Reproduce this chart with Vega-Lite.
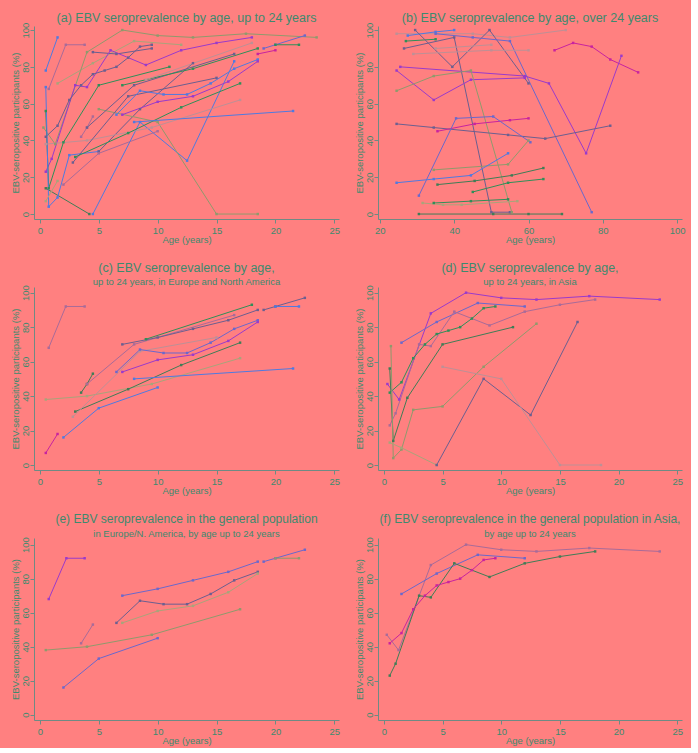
{
  "$schema": "https://vega.github.io/schema/vega-lite/v6.json",
  "padding": {"left": 10, "top": 11, "right": 5, "bottom": 3},
  "background": "#ff8080",
  "config": {
    "view": {"stroke": null},
    "font": "Liberation Sans",
    "axis": {"grid": false, "domainColor": "#6f8a84", "tickColor": "#6f8a84", "labelColor": "#3d8a6e", "titleColor": "#3d8a6e", "labelFontSize": 9.5, "titleFontSize": 9.5, "titleFontWeight": "normal", "tickSize": 4, "labelPadding": 2, "titlePadding": 0},
    "axisY": {"labelAngle": -90, "labelPadding": 0},
    "title": {"color": "#3d8a6e", "fontSize": 12.5, "fontWeight": "normal", "subtitleColor": "#3d8a6e", "subtitleFontSize": 9.5, "anchor": "middle", "offset": -2, "subtitlePadding": 3}
  },
  "datasets": {
    "a": [
      {"id":"a1","k":"blue","age":0.5,"pct":78},{"id":"a1","k":"blue","age":1.5,"pct":96},
      {"id":"a2","k":"mauve","age":0.75,"pct":68},{"id":"a2","k":"mauve","age":2.2,"pct":92},{"id":"a2","k":"mauve","age":3.8,"pct":92},
      {"id":"a3","k":"lolive","age":1.5,"pct":71},{"id":"a3","k":"lolive","age":4.5,"pct":82},{"id":"a3","k":"lolive","age":8,"pct":94},{"id":"a3","k":"lolive","age":12,"pct":92},
      {"id":"a4","k":"olive","age":0.3,"pct":47},{"id":"a4","k":"olive","age":1.3,"pct":38},{"id":"a4","k":"olive","age":4,"pct":88},{"id":"a4","k":"olive","age":7,"pct":100},{"id":"a4","k":"olive","age":10,"pct":97},{"id":"a4","k":"olive","age":13,"pct":96},{"id":"a4","k":"olive","age":17.5,"pct":98},{"id":"a4","k":"olive","age":23.5,"pct":96},
      {"id":"a5","k":"slate","age":4.5,"pct":88},{"id":"a5","k":"slate","age":6.5,"pct":87},{"id":"a5","k":"slate","age":9.5,"pct":90},
      {"id":"a6","k":"purple","age":0.5,"pct":23},{"id":"a6","k":"purple","age":1,"pct":30},{"id":"a6","k":"purple","age":3,"pct":70},{"id":"a6","k":"purple","age":4,"pct":69},{"id":"a6","k":"purple","age":6,"pct":89},{"id":"a6","k":"purple","age":9,"pct":81},{"id":"a6","k":"purple","age":12,"pct":89},{"id":"a6","k":"purple","age":15,"pct":93},{"id":"a6","k":"purple","age":18,"pct":96},
      {"id":"a7","k":"slate","age":0.5,"pct":42},{"id":"a7","k":"slate","age":1.5,"pct":48},{"id":"a7","k":"slate","age":2.5,"pct":62},{"id":"a7","k":"slate","age":3.5,"pct":70},{"id":"a7","k":"slate","age":4.5,"pct":76},{"id":"a7","k":"slate","age":5.5,"pct":78},{"id":"a7","k":"slate","age":6.5,"pct":80},{"id":"a7","k":"slate","age":7.5,"pct":85},{"id":"a7","k":"slate","age":8.5,"pct":91},{"id":"a7","k":"slate","age":9.5,"pct":92},
      {"id":"a8","k":"green","age":0.5,"pct":56},{"id":"a8","k":"green","age":0.75,"pct":14},{"id":"a8","k":"green","age":2,"pct":39},{"id":"a8","k":"green","age":5,"pct":70},{"id":"a8","k":"green","age":11,"pct":80},
      {"id":"a9","k":"dgreen","age":0.5,"pct":14},{"id":"a9","k":"dgreen","age":4.2,"pct":0},
      {"id":"a10","k":"blue","age":0.5,"pct":69},{"id":"a10","k":"blue","age":0.75,"pct":4},{"id":"a10","k":"blue","age":1.5,"pct":9},{"id":"a10","k":"blue","age":2.5,"pct":32},{"id":"a10","k":"blue","age":5,"pct":34},
      {"id":"a10b","k":"slate","age":5,"pct":34},{"id":"a10b","k":"slate","age":8.5,"pct":57},{"id":"a10b","k":"slate","age":13,"pct":82},
      {"id":"a11","k":"blue","age":4.5,"pct":0},{"id":"a11","k":"blue","age":8.5,"pct":50},{"id":"a11","k":"blue","age":12.5,"pct":29},{"id":"a11","k":"blue","age":16.5,"pct":83},
      {"id":"a12","k":"olive","age":5,"pct":57},{"id":"a12","k":"olive","age":10,"pct":50},{"id":"a12","k":"olive","age":15,"pct":0},{"id":"a12","k":"olive","age":18.5,"pct":0},
      {"id":"a13","k":"lolive","age":0.5,"pct":7},{"id":"a13","k":"lolive","age":1.5,"pct":18},
      {"id":"a14","k":"mauve","age":2,"pct":16},{"id":"a14","k":"mauve","age":5,"pct":33},{"id":"a14","k":"mauve","age":10,"pct":45},
      {"id":"a15","k":"lgray","age":0.5,"pct":38},{"id":"a15","k":"lgray","age":4,"pct":40},{"id":"a15","k":"lgray","age":9.5,"pct":47},{"id":"a15","k":"lgray","age":17,"pct":62},
      {"id":"a16","k":"slate","age":2.8,"pct":28},{"id":"a16","k":"slate","age":7.5,"pct":64},{"id":"a16","k":"slate","age":15,"pct":74},
      {"id":"a17","k":"green","age":3,"pct":31},{"id":"a17","k":"green","age":7.5,"pct":44},{"id":"a17","k":"green","age":12,"pct":58},{"id":"a17","k":"green","age":17,"pct":71},
      {"id":"a18","k":"mauve","age":3.5,"pct":42},{"id":"a18","k":"mauve","age":4,"pct":47},{"id":"a18","k":"mauve","age":4.5,"pct":53},
      {"id":"a19","k":"slate","age":4,"pct":47},{"id":"a19","k":"slate","age":8,"pct":70},{"id":"a19","k":"slate","age":16.5,"pct":87},
      {"id":"a20","k":"green","age":7,"pct":70},{"id":"a20","k":"green","age":13,"pct":79},{"id":"a20","k":"green","age":18.5,"pct":90},
      {"id":"a21","k":"lgray","age":9,"pct":73},{"id":"a21","k":"lgray","age":18,"pct":93},
      {"id":"a22","k":"blue","age":6.5,"pct":54},{"id":"a22","k":"blue","age":8.5,"pct":67},{"id":"a22","k":"blue","age":10.5,"pct":65},{"id":"a22","k":"blue","age":12.5,"pct":65},{"id":"a22","k":"blue","age":14.5,"pct":71},{"id":"a22","k":"blue","age":16.5,"pct":79},{"id":"a22","k":"blue","age":18.5,"pct":84},
      {"id":"a23","k":"purple","age":7,"pct":54},{"id":"a23","k":"purple","age":10,"pct":61},{"id":"a23","k":"purple","age":13,"pct":64},{"id":"a23","k":"purple","age":16,"pct":72},{"id":"a23","k":"purple","age":18.5,"pct":83},
      {"id":"a24","k":"blue","age":8,"pct":50},{"id":"a24","k":"blue","age":21.5,"pct":56},
      {"id":"a25","k":"magenta","age":18.5,"pct":87},{"id":"a25","k":"magenta","age":20,"pct":89},
      {"id":"a26","k":"slateblue","age":19,"pct":90},{"id":"a26","k":"slateblue","age":20,"pct":92},{"id":"a26","k":"slateblue","age":22.5,"pct":97},
      {"id":"a27","k":"green","age":20,"pct":92},{"id":"a27","k":"green","age":22,"pct":92}
    ],
    "b": [
      {"id":"b1","k":"lgray","age":24.5,"pct":98},{"id":"b1","k":"lgray","age":45,"pct":98},{"id":"b1","k":"lgray","age":55,"pct":96},{"id":"b1","k":"lgray","age":70,"pct":100},
      {"id":"b2","k":"blue","age":27.5,"pct":97},{"id":"b2","k":"blue","age":35,"pct":99},{"id":"b2","k":"blue","age":40,"pct":100},
      {"id":"b3","k":"green","age":27,"pct":94},{"id":"b3","k":"green","age":35,"pct":95},
      {"id":"b4","k":"slate","age":29.5,"pct":100},{"id":"b4","k":"slate","age":39.5,"pct":80},{"id":"b4","k":"slate","age":49.5,"pct":100},{"id":"b4","k":"slate","age":60,"pct":71},
      {"id":"b5","k":"slate","age":26.5,"pct":90},{"id":"b5","k":"slate","age":40,"pct":96},{"id":"b5","k":"slate","age":50,"pct":1},{"id":"b5","k":"slate","age":55,"pct":1},
      {"id":"b6","k":"slateblue","age":35,"pct":98},{"id":"b6","k":"slateblue","age":45,"pct":96},{"id":"b6","k":"slateblue","age":55,"pct":94},{"id":"b6","k":"slateblue","age":77,"pct":1},
      {"id":"b7","k":"lgray","age":35,"pct":90},{"id":"b7","k":"lgray","age":50,"pct":92},
      {"id":"b8","k":"lgray","age":29,"pct":87},{"id":"b8","k":"lgray","age":50,"pct":89},{"id":"b8","k":"lgray","age":60,"pct":89},
      {"id":"b9","k":"magenta","age":67,"pct":89},{"id":"b9","k":"magenta","age":72,"pct":93},{"id":"b9","k":"magenta","age":77,"pct":91},{"id":"b9","k":"magenta","age":82,"pct":84},{"id":"b9","k":"magenta","age":89.5,"pct":77},
      {"id":"b10","k":"purple","age":25.5,"pct":80},{"id":"b10","k":"purple","age":59,"pct":75},{"id":"b10","k":"purple","age":65.5,"pct":71},{"id":"b10","k":"purple","age":75.5,"pct":33},{"id":"b10","k":"purple","age":85,"pct":86},
      {"id":"b11","k":"purple","age":24.5,"pct":78},{"id":"b11","k":"purple","age":34.5,"pct":62},{"id":"b11","k":"purple","age":44.5,"pct":73},{"id":"b11","k":"purple","age":59,"pct":74},
      {"id":"b12","k":"olive","age":24.5,"pct":67},{"id":"b12","k":"olive","age":34.5,"pct":75},{"id":"b12","k":"olive","age":44.5,"pct":78},{"id":"b12","k":"olive","age":55.5,"pct":1},
      {"id":"b13","k":"slate","age":24.5,"pct":49},{"id":"b13","k":"slate","age":34.5,"pct":47},{"id":"b13","k":"slate","age":54.5,"pct":43},{"id":"b13","k":"slate","age":64.5,"pct":41},{"id":"b13","k":"slate","age":82,"pct":48},
      {"id":"b14","k":"magenta","age":35.5,"pct":45},{"id":"b14","k":"magenta","age":45.5,"pct":49},{"id":"b14","k":"magenta","age":55,"pct":51},{"id":"b14","k":"magenta","age":60,"pct":52},
      {"id":"b15","k":"slateblue","age":30.5,"pct":10},{"id":"b15","k":"slateblue","age":40.5,"pct":52},{"id":"b15","k":"slateblue","age":50.5,"pct":53},{"id":"b15","k":"slateblue","age":60.5,"pct":39},
      {"id":"b16","k":"olive","age":34.5,"pct":24},{"id":"b16","k":"olive","age":54.5,"pct":27},{"id":"b16","k":"olive","age":60,"pct":40},
      {"id":"b17","k":"blue","age":24.5,"pct":17},{"id":"b17","k":"blue","age":34.5,"pct":19},{"id":"b17","k":"blue","age":44.5,"pct":21},{"id":"b17","k":"blue","age":54.5,"pct":33},
      {"id":"b18","k":"dgreen","age":35.5,"pct":16},{"id":"b18","k":"dgreen","age":45.5,"pct":18},{"id":"b18","k":"dgreen","age":55.5,"pct":21},{"id":"b18","k":"dgreen","age":64,"pct":25},
      {"id":"b19","k":"green","age":45,"pct":12},{"id":"b19","k":"green","age":54.5,"pct":17},{"id":"b19","k":"green","age":64,"pct":19},
      {"id":"b20","k":"green","age":34.5,"pct":6},{"id":"b20","k":"green","age":44.5,"pct":7},{"id":"b20","k":"green","age":54.5,"pct":8},
      {"id":"b21","k":"lolive","age":31.5,"pct":6},{"id":"b21","k":"lolive","age":37,"pct":5},{"id":"b21","k":"lolive","age":42,"pct":5},{"id":"b21","k":"lolive","age":57,"pct":7},
      {"id":"b22","k":"dgreen","age":30.5,"pct":0},{"id":"b22","k":"dgreen","age":50.5,"pct":0},{"id":"b22","k":"dgreen","age":60,"pct":0},{"id":"b22","k":"dgreen","age":69,"pct":0}
    ],
    "c": [
      {"id":"c1","k":"mauve","age":0.75,"pct":68},{"id":"c1","k":"mauve","age":2.2,"pct":92},{"id":"c1","k":"mauve","age":3.8,"pct":92},
      {"id":"c2","k":"magenta","age":0.5,"pct":7},{"id":"c2","k":"magenta","age":1.5,"pct":18},
      {"id":"c3","k":"blue","age":2,"pct":16},{"id":"c3","k":"blue","age":5,"pct":33},{"id":"c3","k":"blue","age":10,"pct":45},
      {"id":"c4","k":"lolive","age":0.5,"pct":38},{"id":"c4","k":"lolive","age":4,"pct":40},{"id":"c4","k":"lolive","age":9.5,"pct":47},{"id":"c4","k":"lolive","age":17,"pct":62},
      {"id":"c5","k":"dgreen","age":3,"pct":31},{"id":"c5","k":"dgreen","age":7.5,"pct":44},{"id":"c5","k":"dgreen","age":12,"pct":58},{"id":"c5","k":"dgreen","age":17,"pct":71},
      {"id":"c6","k":"lgray","age":2.8,"pct":28},{"id":"c6","k":"lgray","age":8.5,"pct":66},{"id":"c6","k":"lgray","age":15,"pct":74},
      {"id":"c7","k":"dgreen","age":3.5,"pct":42},{"id":"c7","k":"dgreen","age":4,"pct":47},{"id":"c7","k":"dgreen","age":4.5,"pct":53},
      {"id":"c8","k":"mauve","age":4,"pct":47},{"id":"c8","k":"mauve","age":8,"pct":70},{"id":"c8","k":"mauve","age":16.5,"pct":87},
      {"id":"c9","k":"slate","age":7,"pct":70},{"id":"c9","k":"slate","age":10,"pct":74},{"id":"c9","k":"slate","age":13,"pct":79},{"id":"c9","k":"slate","age":16,"pct":84},{"id":"c9","k":"slate","age":18.5,"pct":90},
      {"id":"c10","k":"green","age":9,"pct":73},{"id":"c10","k":"green","age":18,"pct":93},
      {"id":"c11","k":"slateblue","age":6.5,"pct":54},{"id":"c11","k":"slateblue","age":8.5,"pct":67},{"id":"c11","k":"slateblue","age":10.5,"pct":65},{"id":"c11","k":"slateblue","age":12.5,"pct":65},{"id":"c11","k":"slateblue","age":14.5,"pct":71},{"id":"c11","k":"slateblue","age":16.5,"pct":79},{"id":"c11","k":"slateblue","age":18.5,"pct":84},
      {"id":"c12","k":"purple","age":7,"pct":54},{"id":"c12","k":"purple","age":10,"pct":61},{"id":"c12","k":"purple","age":13,"pct":64},{"id":"c12","k":"purple","age":16,"pct":72},{"id":"c12","k":"purple","age":18.5,"pct":83},
      {"id":"c13","k":"blue","age":8,"pct":50},{"id":"c13","k":"blue","age":21.5,"pct":56},
      {"id":"c14","k":"slate","age":19,"pct":90},{"id":"c14","k":"slate","age":20,"pct":92},{"id":"c14","k":"slate","age":22.5,"pct":97},
      {"id":"c15","k":"blue","age":20,"pct":92},{"id":"c15","k":"blue","age":22,"pct":92}
    ],
    "d": [
      {"id":"d1","k":"purple","age":0.3,"pct":47},{"id":"d1","k":"purple","age":1.3,"pct":38},{"id":"d1","k":"purple","age":4,"pct":88},{"id":"d1","k":"purple","age":7,"pct":100},{"id":"d1","k":"purple","age":10,"pct":97},{"id":"d1","k":"purple","age":13,"pct":96},{"id":"d1","k":"purple","age":17.5,"pct":98},{"id":"d1","k":"purple","age":23.5,"pct":96},
      {"id":"d2","k":"slateblue","age":1.5,"pct":71},{"id":"d2","k":"slateblue","age":4.5,"pct":83},{"id":"d2","k":"slateblue","age":8,"pct":94},{"id":"d2","k":"slateblue","age":12,"pct":92},
      {"id":"d3","k":"mauve","age":0.5,"pct":23},{"id":"d3","k":"mauve","age":1,"pct":30},{"id":"d3","k":"mauve","age":3,"pct":70},{"id":"d3","k":"mauve","age":4,"pct":69},{"id":"d3","k":"mauve","age":6,"pct":89},{"id":"d3","k":"mauve","age":9,"pct":81},{"id":"d3","k":"mauve","age":12,"pct":89},{"id":"d3","k":"mauve","age":15,"pct":93},{"id":"d3","k":"mauve","age":18,"pct":96},
      {"id":"d4","k":"green","age":0.5,"pct":42},{"id":"d4","k":"green","age":1.5,"pct":48},{"id":"d4","k":"green","age":2.5,"pct":62},{"id":"d4","k":"green","age":3.5,"pct":70},{"id":"d4","k":"green","age":4.5,"pct":76},{"id":"d4","k":"green","age":5.5,"pct":78},{"id":"d4","k":"green","age":6.5,"pct":80},{"id":"d4","k":"green","age":7.5,"pct":85},{"id":"d4","k":"green","age":8.5,"pct":91},{"id":"d4","k":"green","age":9.5,"pct":92},
      {"id":"d5","k":"dgreen","age":0.5,"pct":56},{"id":"d5","k":"dgreen","age":0.8,"pct":14},{"id":"d5","k":"dgreen","age":2,"pct":39},{"id":"d5","k":"dgreen","age":5,"pct":70},{"id":"d5","k":"dgreen","age":11,"pct":80},
      {"id":"d6","k":"olive","age":0.6,"pct":69},{"id":"d6","k":"olive","age":0.8,"pct":4},{"id":"d6","k":"olive","age":1.5,"pct":9},{"id":"d6","k":"olive","age":2.5,"pct":32},{"id":"d6","k":"olive","age":5,"pct":34},{"id":"d6","k":"olive","age":8.5,"pct":57},{"id":"d6","k":"olive","age":13,"pct":82},
      {"id":"d7","k":"lolive","age":0.5,"pct":13},{"id":"d7","k":"lolive","age":1.5,"pct":10},{"id":"d7","k":"lolive","age":4.5,"pct":0},
      {"id":"d8","k":"slate","age":4.5,"pct":0},{"id":"d8","k":"slate","age":8.5,"pct":50},{"id":"d8","k":"slate","age":12.5,"pct":29},{"id":"d8","k":"slate","age":16.5,"pct":83},
      {"id":"d9","k":"lgray","age":5,"pct":57},{"id":"d9","k":"lgray","age":10,"pct":50},{"id":"d9","k":"lgray","age":15,"pct":0},{"id":"d9","k":"lgray","age":18.5,"pct":0}
    ],
    "e": [
      {"id":"e1","k":"purple","age":0.75,"pct":68},{"id":"e1","k":"purple","age":2.25,"pct":92},{"id":"e1","k":"purple","age":3.8,"pct":92},
      {"id":"e2","k":"mauve","age":3.5,"pct":42},{"id":"e2","k":"mauve","age":4.5,"pct":53},
      {"id":"e3","k":"slateblue","age":2,"pct":16},{"id":"e3","k":"slateblue","age":5,"pct":33},{"id":"e3","k":"slateblue","age":10,"pct":45},
      {"id":"e4","k":"olive","age":0.5,"pct":38},{"id":"e4","k":"olive","age":4,"pct":40},{"id":"e4","k":"olive","age":9.5,"pct":47},{"id":"e4","k":"olive","age":17,"pct":62},
      {"id":"e5","k":"slateblue","age":7,"pct":70},{"id":"e5","k":"slateblue","age":10,"pct":74},{"id":"e5","k":"slateblue","age":13,"pct":79},{"id":"e5","k":"slateblue","age":16,"pct":84},{"id":"e5","k":"slateblue","age":18.5,"pct":90},
      {"id":"e6","k":"slate","age":6.5,"pct":54},{"id":"e6","k":"slate","age":8.5,"pct":67},{"id":"e6","k":"slate","age":10.5,"pct":65},{"id":"e6","k":"slate","age":12.5,"pct":65},{"id":"e6","k":"slate","age":14.5,"pct":71},{"id":"e6","k":"slate","age":16.5,"pct":79},{"id":"e6","k":"slate","age":18.5,"pct":84},
      {"id":"e7","k":"lolive","age":7,"pct":54},{"id":"e7","k":"lolive","age":10,"pct":61},{"id":"e7","k":"lolive","age":13,"pct":64},{"id":"e7","k":"lolive","age":16,"pct":72},{"id":"e7","k":"lolive","age":18.5,"pct":83},
      {"id":"e8","k":"slateblue","age":19,"pct":90},{"id":"e8","k":"slateblue","age":20,"pct":92},{"id":"e8","k":"slateblue","age":22.5,"pct":97},
      {"id":"e9","k":"olive","age":20,"pct":92},{"id":"e9","k":"olive","age":22,"pct":92}
    ],
    "f": [
      {"id":"f1","k":"mauve","age":0.25,"pct":47},{"id":"f1","k":"mauve","age":1.25,"pct":38},{"id":"f1","k":"mauve","age":4,"pct":88},{"id":"f1","k":"mauve","age":7,"pct":100},{"id":"f1","k":"mauve","age":10,"pct":97},{"id":"f1","k":"mauve","age":13,"pct":96},{"id":"f1","k":"mauve","age":17.5,"pct":98},{"id":"f1","k":"mauve","age":23.5,"pct":96},
      {"id":"f2","k":"slateblue","age":1.5,"pct":71},{"id":"f2","k":"slateblue","age":4.5,"pct":83},{"id":"f2","k":"slateblue","age":8,"pct":94},{"id":"f2","k":"slateblue","age":12,"pct":92},
      {"id":"f3","k":"dgreen","age":0.5,"pct":23},{"id":"f3","k":"dgreen","age":1,"pct":30},{"id":"f3","k":"dgreen","age":3,"pct":70},{"id":"f3","k":"dgreen","age":4,"pct":69},{"id":"f3","k":"dgreen","age":6,"pct":89},{"id":"f3","k":"dgreen","age":9,"pct":81},{"id":"f3","k":"dgreen","age":12,"pct":89},{"id":"f3","k":"dgreen","age":15,"pct":93},{"id":"f3","k":"dgreen","age":18,"pct":96},
      {"id":"f4","k":"magenta","age":0.5,"pct":42},{"id":"f4","k":"magenta","age":1.5,"pct":48},{"id":"f4","k":"magenta","age":2.5,"pct":62},{"id":"f4","k":"magenta","age":3.5,"pct":70},{"id":"f4","k":"magenta","age":4.5,"pct":76},{"id":"f4","k":"magenta","age":5.5,"pct":78},{"id":"f4","k":"magenta","age":6.5,"pct":80},{"id":"f4","k":"magenta","age":7.5,"pct":85},{"id":"f4","k":"magenta","age":8.5,"pct":91},{"id":"f4","k":"magenta","age":9.5,"pct":92}
    ]
  },
  "columns": 2,
  "spacing": {"row": 68, "column": 39},
  "bounds": "flush",
  "concat": [
    {
      "title": {"text": "(a) EBV seroprevalence by age, up to 24 years", "offset": -2},
      "width": 305, "height": 193,
      "data": {"name": "a"},
      "mark": {"type": "line", "strokeWidth": 1, "point": {"filled": true, "size": 6, "shape": "square"}},
      "encoding": {
        "x": {"field": "age", "type": "quantitative", "scale": {"domain": [-0.5, 25.4], "nice": false, "zero": false}, "axis": {"values": [0, 5, 10, 15, 20, 25], "title": "Age (years)"}},
        "y": {"field": "pct", "type": "quantitative", "scale": {"domain": [-2.7, 102.2], "nice": false, "zero": false}, "axis": {"values": [0, 20, 40, 60, 80, 100], "title": "EBV-seropositive participants (%)"}},
        "color": {"field": "k", "type": "nominal", "legend": null, "scale": {"domain": ["blue", "slateblue", "purple", "magenta", "green", "dgreen", "olive", "lolive", "mauve", "slate", "lgray"], "range": ["#4f7ae0", "#6a68cc", "#9a3acb", "#c8239f", "#2f8f58", "#3f7d56", "#8f9a6c", "#a9a47a", "#a86b99", "#6b5f90", "#bd9096"]}},
        "detail": {"field": "id"}
      }
    },
    {
      "title": {"text": "(b) EBV seroprevalence by age, over 24 years", "offset": -2},
      "width": 304, "height": 193,
      "data": {"name": "b"},
      "mark": {"type": "line", "strokeWidth": 1, "point": {"filled": true, "size": 6, "shape": "square"}},
      "encoding": {
        "x": {"field": "age", "type": "quantitative", "scale": {"domain": [19.5, 101.3], "nice": false, "zero": false}, "axis": {"values": [20, 40, 60, 80, 100], "title": "Age (years)"}},
        "y": {"field": "pct", "type": "quantitative", "scale": {"domain": [-2.7, 102.2], "nice": false, "zero": false}, "axis": {"values": [0, 20, 40, 60, 80, 100], "title": "EBV-seropositive participants (%)"}},
        "color": {"field": "k", "type": "nominal", "legend": null},
        "detail": {"field": "id"}
      }
    },
    {
      "title": {"text": "(c) EBV seroprevalence by age,", "subtitle": "up to 24 years, in Europe and North America"},
      "width": 305, "height": 183,
      "data": {"name": "c"},
      "mark": {"type": "line", "strokeWidth": 1, "point": {"filled": true, "size": 6, "shape": "square"}},
      "encoding": {
        "x": {"field": "age", "type": "quantitative", "scale": {"domain": [-0.5, 25.4], "nice": false, "zero": false}, "axis": {"values": [0, 5, 10, 15, 20, 25], "title": "Age (years)"}},
        "y": {"field": "pct", "type": "quantitative", "scale": {"domain": [-2.9, 103.3], "nice": false, "zero": false}, "axis": {"values": [0, 20, 40, 60, 80, 100], "title": "EBV-seropositive participants (%)"}},
        "color": {"field": "k", "type": "nominal", "legend": null},
        "detail": {"field": "id"}
      }
    },
    {
      "title": {"text": "(d) EBV seroprevalence by age,", "subtitle": "up to 24 years, in Asia"},
      "width": 304, "height": 183,
      "data": {"name": "d"},
      "mark": {"type": "line", "strokeWidth": 1, "point": {"filled": true, "size": 6, "shape": "square"}},
      "encoding": {
        "x": {"field": "age", "type": "quantitative", "scale": {"domain": [-0.5, 25.4], "nice": false, "zero": false}, "axis": {"values": [0, 5, 10, 15, 20, 25], "title": "Age (years)"}},
        "y": {"field": "pct", "type": "quantitative", "scale": {"domain": [-2.9, 103.3], "nice": false, "zero": false}, "axis": {"values": [0, 20, 40, 60, 80, 100], "title": "EBV-seropositive participants (%)"}},
        "color": {"field": "k", "type": "nominal", "legend": null},
        "detail": {"field": "id"}
      }
    },
    {
      "title": {"text": "(e) EBV seroprevalence in the general population", "subtitle": "in Europe/N. America, by age up to 24 years", "fontSize": 12, "offset": -3},
      "width": 305, "height": 182,
      "data": {"name": "e"},
      "mark": {"type": "line", "strokeWidth": 1, "point": {"filled": true, "size": 6, "shape": "square"}},
      "encoding": {
        "x": {"field": "age", "type": "quantitative", "scale": {"domain": [-0.5, 25.4], "nice": false, "zero": false}, "axis": {"values": [0, 5, 10, 15, 20, 25], "title": "Age (years)"}},
        "y": {"field": "pct", "type": "quantitative", "scale": {"domain": [-3.1, 103.9], "nice": false, "zero": false}, "axis": {"values": [0, 20, 40, 60, 80, 100], "title": "EBV-seropositive participants (%)"}},
        "color": {"field": "k", "type": "nominal", "legend": null},
        "detail": {"field": "id"}
      }
    },
    {
      "title": {"text": "(f) EBV seroprevalence in the general population in Asia,", "subtitle": "by age up to 24 years", "fontSize": 12, "offset": -3},
      "width": 304, "height": 182,
      "data": {"name": "f"},
      "mark": {"type": "line", "strokeWidth": 1, "point": {"filled": true, "size": 6, "shape": "square"}},
      "encoding": {
        "x": {"field": "age", "type": "quantitative", "scale": {"domain": [-0.5, 25.4], "nice": false, "zero": false}, "axis": {"values": [0, 5, 10, 15, 20, 25], "title": "Age (years)"}},
        "y": {"field": "pct", "type": "quantitative", "scale": {"domain": [-3.1, 103.9], "nice": false, "zero": false}, "axis": {"values": [0, 20, 40, 60, 80, 100], "title": "EBV-seropositive participants (%)"}},
        "color": {"field": "k", "type": "nominal", "legend": null},
        "detail": {"field": "id"}
      }
    }
  ]
}
